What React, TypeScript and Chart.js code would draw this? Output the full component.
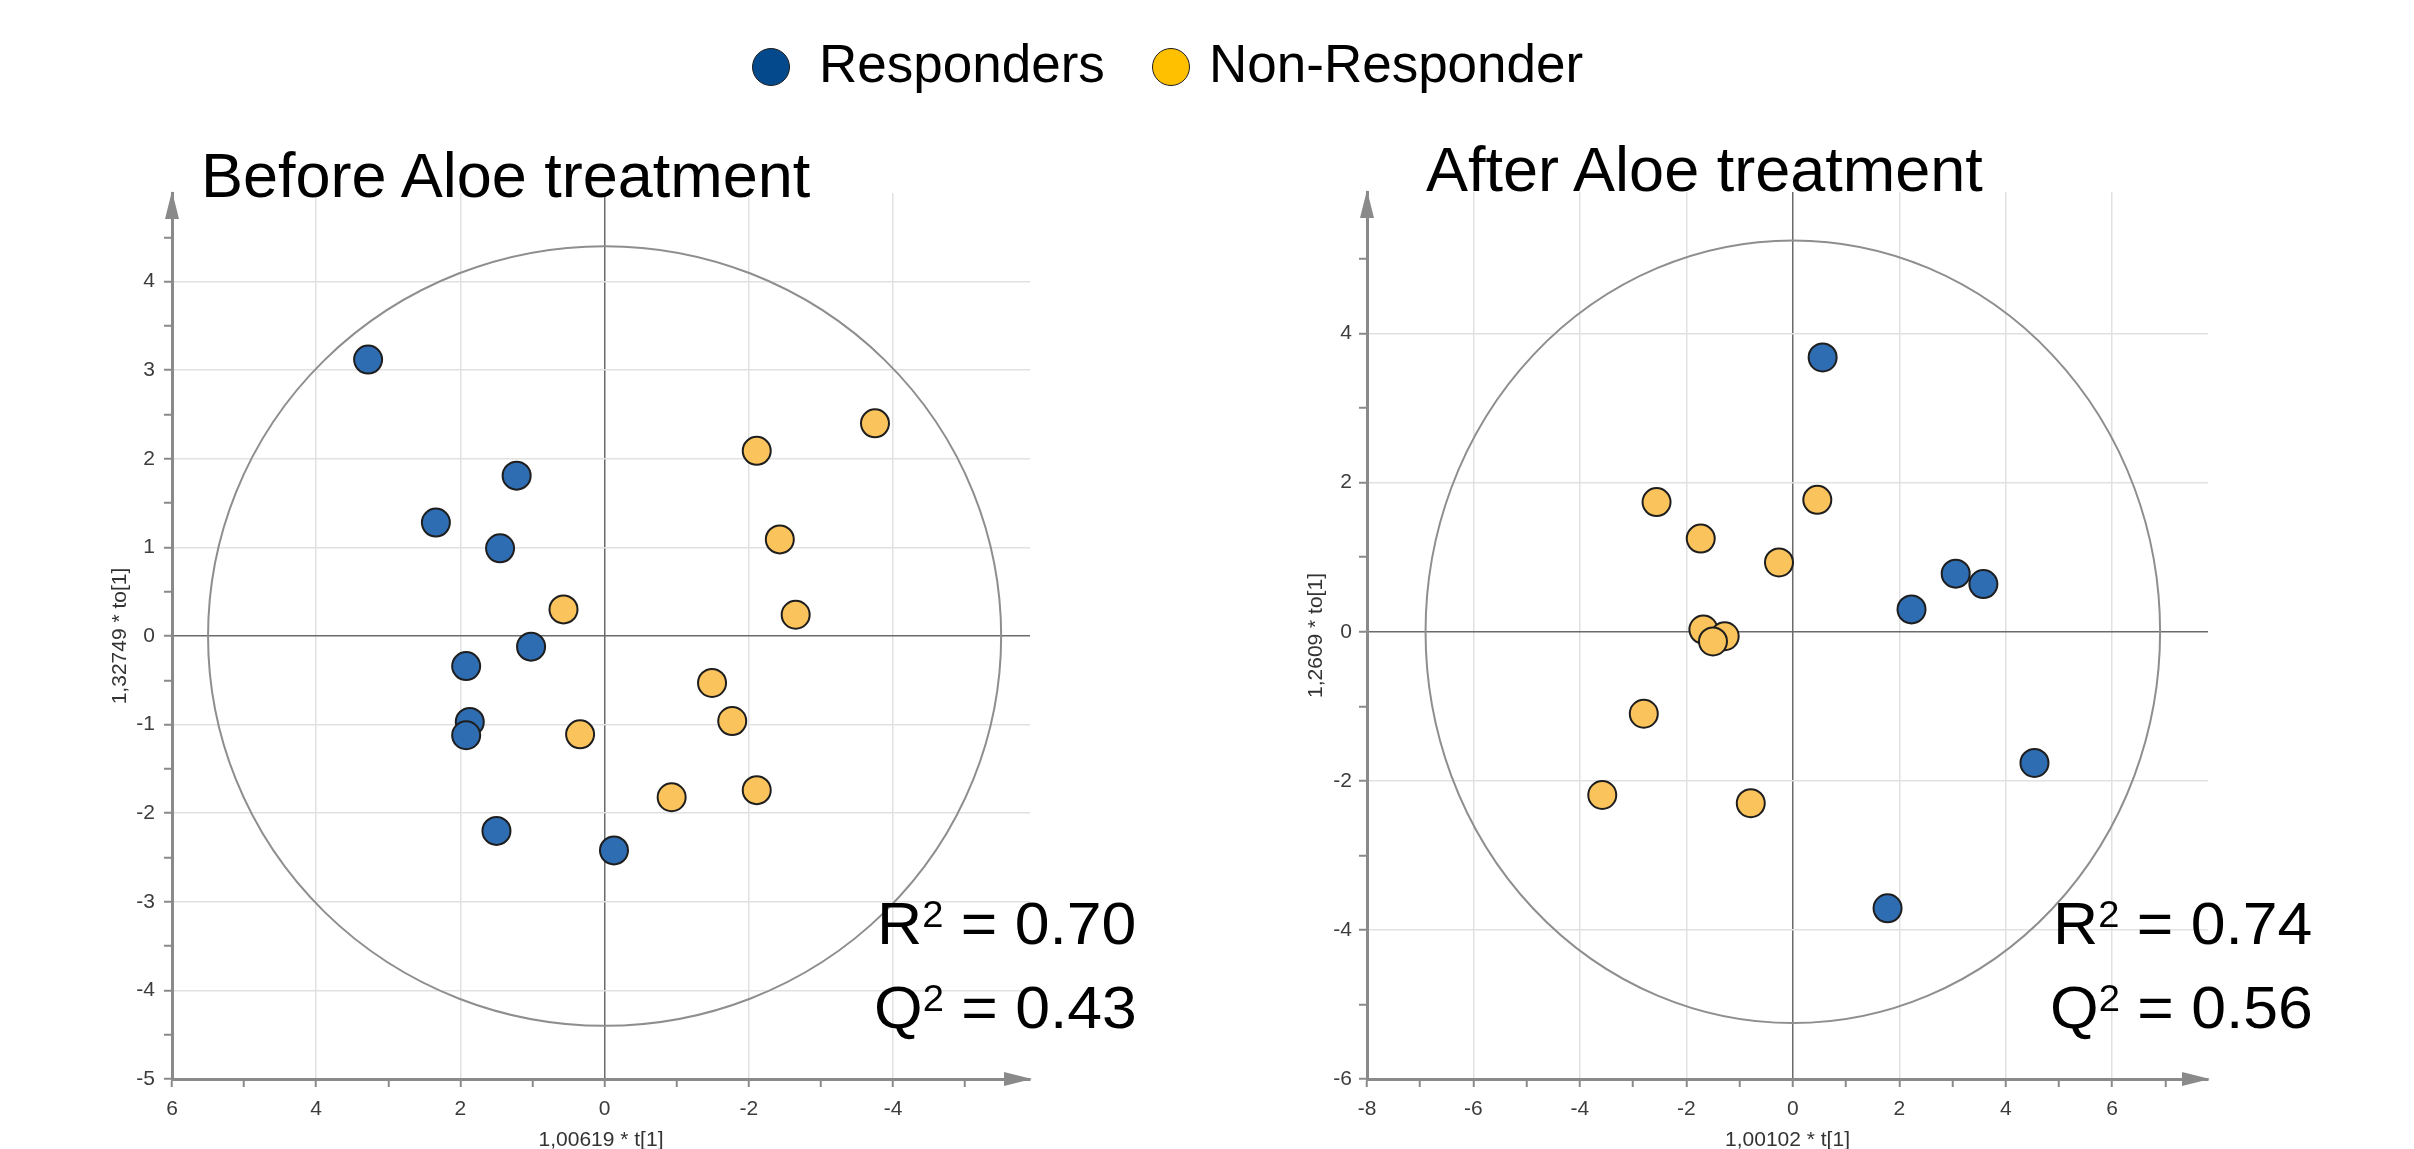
import React, { useEffect, useRef } from 'react';
import { Chart, registerables } from 'chart.js';

Chart.register(...registerables);

// ---------------- DATA ----------------
const legendLabels = ['Responders', 'Non-Responder'];
const panelTitles = ['Before Aloe treatment', 'After Aloe treatment'];

// Before Aloe treatment (x = 1,00619 * t[1], y = 1,32749 * to[1])
const beforeRespondersX = [3.28, 1.22, 2.34, 1.45, 1.02, 1.92, 1.87, 1.92, 1.5, -0.13];
const beforeRespondersY = [3.12, 1.81, 1.28, 0.99, -0.12, -0.34, -0.97, -1.12, -2.2, -2.42];
const beforeNonRespondersX = [-3.75, -2.11, -2.43, -2.65, 0.57, -1.49, -1.77, 0.34, -0.93, -2.11];
const beforeNonRespondersY = [2.4, 2.09, 1.09, 0.24, 0.3, -0.53, -0.96, -1.11, -1.82, -1.74];

// After Aloe treatment (x = 1,00102 * t[1], y = 1,2609 * to[1])
const afterRespondersX = [0.56, 2.23, 3.06, 3.58, 4.54, 1.78];
const afterRespondersY = [3.68, 0.3, 0.78, 0.64, -1.76, -3.71];
const afterNonRespondersX = [-2.56, 0.46, -1.73, -0.26, -1.68, -1.28, -1.5, -2.8, -3.58, -0.79];
const afterNonRespondersY = [1.74, 1.77, 1.25, 0.93, 0.03, -0.06, -0.13, -1.1, -2.19, -2.3];

// Hotelling T2 ellipse semi-axes (x, y)
const beforeEllipse = [5.5, 4.4];
const afterEllipse = [6.9, 5.25];

// Axis ranges
const beforeXRange = [-5.9, 6];
const beforeYRange = [-5, 5];
const afterXRange = [-8, 7.8];
const afterYRange = [-6, 5.9];

// Tick labels and minor ticks
const beforeXLabelTicks = [6, 4, 2, 0, -2, -4];
const beforeXMinorTicks = [5, 3, 1, -1, -3, -5];
const beforeYLabelTicks = [4, 3, 2, 1, 0, -1, -2, -3, -4, -5];
const beforeYMinorTicks = [4.5, 3.5, 2.5, 1.5, 0.5, -0.5, -1.5, -2.5, -3.5, -4.5];
const afterXLabelTicks = [-8, -6, -4, -2, 0, 2, 4, 6];
const afterXMinorTicks = [-7, -5, -3, -1, 1, 3, 5, 7];
const afterYLabelTicks = [4, 2, 0, -2, -4, -6];
const afterYMinorTicks = [5, 3, 1, -1, -3, -5];

// Axis titles
const beforeXTitle = '1,00619 * t[1]';
const beforeYTitle = '1,32749 * to[1]';
const afterXTitle = '1,00102 * t[1]';
const afterYTitle = '1,2609 * to[1]';

// Model statistics
const beforeStats = ['0.70', '0.43'];
const afterStats = ['0.74', '0.56'];

// ---------------- STYLE ----------------
const BLUE = '#2f6db3';
const YELLOW = '#fac35b';
const LEGEND_BLUE = '#03498b';
const LEGEND_YELLOW = '#ffc000';
const AXIS_GRAY = '#8a8a8a';
const FONT = '"Liberation Sans", Arial, Helvetica, sans-serif';

const toPoints = (xs: number[], ys: number[]) => xs.map((x, i) => ({ x, y: ys[i] }));

const decorPlugin = {
  id: 'decor',
  beforeDatasetsDraw(chart: any, _args: any, opts: any) {
    const { ctx } = chart;
    const xs = chart.scales.x;
    const ys = chart.scales.y;
    const cx = xs.getPixelForValue(0);
    const cy = ys.getPixelForValue(0);
    const rx = Math.abs(xs.getPixelForValue(opts.rx) - cx);
    const ry = Math.abs(ys.getPixelForValue(opts.ry) - cy);
    ctx.save();
    ctx.beginPath();
    ctx.ellipse(cx, cy, rx, ry, 0, 0, Math.PI * 2);
    ctx.strokeStyle = '#8e8e8e';
    ctx.lineWidth = 2;
    ctx.stroke();
    ctx.restore();
  },
  afterDraw(chart: any) {
    const { ctx, chartArea } = chart;
    const { left, right, top, bottom } = chartArea;
    ctx.save();
    ctx.fillStyle = AXIS_GRAY;
    ctx.beginPath();
    ctx.moveTo(right + 2, bottom);
    ctx.lineTo(right - 26, bottom - 7);
    ctx.lineTo(right - 26, bottom + 7);
    ctx.closePath();
    ctx.fill();
    ctx.beginPath();
    ctx.moveTo(left, top - 2);
    ctx.lineTo(left - 7, top + 26);
    ctx.lineTo(left + 7, top + 26);
    ctx.closePath();
    ctx.fill();
    ctx.restore();
  },
};

type Panel = {
  responders: { x: number; y: number }[];
  nonResponders: { x: number; y: number }[];
  ellipse: number[];
  xRange: number[];
  yRange: number[];
  reverseX: boolean;
  xLabelTicks: number[];
  xMinorTicks: number[];
  yLabelTicks: number[];
  yMinorTicks: number[];
  xTitle: string;
  yTitle: string;
};

type Box = {
  left: number;
  top: number;
  width: number;
  height: number;
  padTop: number;
  padRight: number;
  yWidth: number;
  xHeight: number;
  yTitlePad: number;
  yTickPad: number;
};

const panels: Panel[] = [
  {
    responders: toPoints(beforeRespondersX, beforeRespondersY),
    nonResponders: toPoints(beforeNonRespondersX, beforeNonRespondersY),
    ellipse: beforeEllipse,
    xRange: beforeXRange,
    yRange: beforeYRange,
    reverseX: true,
    xLabelTicks: beforeXLabelTicks,
    xMinorTicks: beforeXMinorTicks,
    yLabelTicks: beforeYLabelTicks,
    yMinorTicks: beforeYMinorTicks,
    xTitle: beforeXTitle,
    yTitle: beforeYTitle,
  },
  {
    responders: toPoints(afterRespondersX, afterRespondersY),
    nonResponders: toPoints(afterNonRespondersX, afterNonRespondersY),
    ellipse: afterEllipse,
    xRange: afterXRange,
    yRange: afterYRange,
    reverseX: false,
    xLabelTicks: afterXLabelTicks,
    xMinorTicks: afterXMinorTicks,
    yLabelTicks: afterYLabelTicks,
    yMinorTicks: afterYMinorTicks,
    xTitle: afterXTitle,
    yTitle: afterYTitle,
  },
];

const boxes: Box[] = [
  { left: 60, top: 150, width: 1000, height: 1005, padTop: 43, padRight: 30, yWidth: 112, xHeight: 76, yTitlePad: 50, yTickPad: 9 },
  { left: 1240, top: 150, width: 1000, height: 1005, padTop: 42, padRight: 32, yWidth: 127, xHeight: 76, yTitlePad: 66, yTickPad: 7 },
];

function ScatterPanel({ panel, box }: { panel: Panel; box: Box }) {
  const ref = useRef<HTMLCanvasElement>(null);
  useEffect(() => {
    if (!ref.current) return;
    const xTicks = [...panel.xLabelTicks, ...panel.xMinorTicks].sort((a, b) => a - b);
    const yTicks = [...panel.yLabelTicks, ...panel.yMinorTicks].sort((a, b) => a - b);
    const tickFont = { family: FONT, size: 21 };
    const titleFont = { family: FONT, size: 21, lineHeight: 1 };
    const gridColor = (labels: number[], axisValue: number) => (c: any) => {
      const v = c.tick ? c.tick.value : NaN;
      if (!labels.includes(v)) return 'rgba(0,0,0,0)';
      if (v === axisValue) return 'rgba(0,0,0,0)';
      if (v === 0) return '#6b6b6b';
      return '#e1e1e1';
    };
    const chart = new Chart(ref.current, {
      type: 'scatter',
      data: {
        datasets: [
          {
            label: legendLabels[1],
            data: panel.nonResponders,
            backgroundColor: YELLOW,
            borderColor: '#1e1e1e',
            borderWidth: 2,
            pointRadius: 14,
            pointHoverRadius: 14,
          },
          {
            label: legendLabels[0],
            data: panel.responders,
            backgroundColor: BLUE,
            borderColor: '#1e1e1e',
            borderWidth: 2,
            pointRadius: 14,
            pointHoverRadius: 14,
          },
        ],
      },
      options: {
        responsive: false,
        animation: false,
        devicePixelRatio: 1,
        events: [],
        layout: { padding: { top: box.padTop, right: box.padRight, bottom: 0, left: 0 } },
        plugins: {
          legend: { display: false },
          tooltip: { enabled: false },
          // @ts-ignore
          decor: { rx: panel.ellipse[0], ry: panel.ellipse[1] },
        },
        scales: {
          x: {
            type: 'linear',
            min: panel.xRange[0],
            max: panel.xRange[1],
            reverse: panel.reverseX,
            afterBuildTicks: (s: any) => {
              s.ticks = xTicks.map((v) => ({ value: v }));
            },
            afterFit: (s: any) => {
              s.height = box.xHeight;
            },
            ticks: {
              autoSkip: false,
              maxRotation: 0,
              minRotation: 0,
              padding: 10,
              color: '#3c3c3c',
              font: tickFont,
              callback: (v: any) => (panel.xLabelTicks.includes(Number(v)) ? String(v) : ''),
            },
            grid: {
              color: gridColor(panel.xLabelTicks, panel.reverseX ? panel.xRange[1] : panel.xRange[0]),
              lineWidth: 1.5,
              drawTicks: true,
              tickLength: 8,
              tickColor: AXIS_GRAY,
              tickWidth: 2,
            },
            border: { display: true, color: AXIS_GRAY, width: 3 },
            title: {
              display: true,
              text: panel.xTitle,
              color: '#333',
              font: titleFont,
              padding: { top: 0, bottom: 4.5 },
            },
          },
          y: {
            type: 'linear',
            min: panel.yRange[0],
            max: panel.yRange[1],
            afterBuildTicks: (s: any) => {
              s.ticks = yTicks.map((v) => ({ value: v }));
            },
            afterFit: (s: any) => {
              s.width = box.yWidth;
            },
            ticks: {
              autoSkip: false,
              padding: box.yTickPad,
              color: '#3c3c3c',
              font: tickFont,
              callback: (v: any) => (panel.yLabelTicks.includes(Number(v)) ? String(v) : ''),
            },
            grid: {
              color: gridColor(panel.yLabelTicks, panel.yRange[0]),
              lineWidth: 1.5,
              drawTicks: true,
              tickLength: 8,
              tickColor: AXIS_GRAY,
              tickWidth: 2,
            },
            border: { display: true, color: AXIS_GRAY, width: 3 },
            title: {
              display: true,
              text: panel.yTitle,
              color: '#333',
              font: titleFont,
              padding: { top: box.yTitlePad, bottom: 0 },
            },
          },
        },
      },
      plugins: [decorPlugin],
    } as any);
    return () => chart.destroy();
  }, [panel, box]);
  return (
    <canvas
      ref={ref}
      width={box.width}
      height={box.height}
      style={{ position: 'absolute', left: box.left, top: box.top, width: box.width, height: box.height }}
    />
  );
}

const textStyle = (left: number, top: number, size: number): React.CSSProperties => ({
  position: 'absolute',
  left,
  top,
  fontSize: size,
  lineHeight: `${size}px`,
  whiteSpace: 'nowrap',
  fontFamily: FONT,
  color: '#000',
});

function Stat({ left, top, letter, value }: { left: number; top: number; letter: string; value: string }) {
  return (
    <div style={{ ...textStyle(left, top, 59), transform: 'scaleX(1.06)', transformOrigin: '0 0' }}>
      {letter}
      <span style={{ fontSize: 36, position: 'relative', top: -17 }}>2</span>
      {' = '}
      {value}
    </div>
  );
}

function LegendDot({ cx, cy, color }: { cx: number; cy: number; color: string }) {
  return (
    <div
      style={{
        position: 'absolute',
        left: cx - 19,
        top: cy - 19,
        width: 38,
        height: 38,
        borderRadius: '50%',
        background: color,
        border: '1.5px solid #1e1e1e',
        boxSizing: 'border-box',
      }}
    />
  );
}

export default function App() {
  return (
    <div
      style={{
        position: 'absolute',
        left: 0,
        top: 0,
        width: 2414,
        height: 1149,
        background: '#fff',
        overflow: 'hidden',
        fontFamily: FONT,
      }}
    >
      <ScatterPanel panel={panels[0]} box={boxes[0]} />
      <ScatterPanel panel={panels[1]} box={boxes[1]} />

      <LegendDot cx={771} cy={67} color={LEGEND_BLUE} />
      <div style={textStyle(819, 37, 53)}>{legendLabels[0]}</div>
      <LegendDot cx={1171} cy={67} color={LEGEND_YELLOW} />
      <div style={textStyle(1209, 37, 53)}>{legendLabels[1]}</div>

      <div style={textStyle(201, 144, 63)}>{panelTitles[0]}</div>
      <div style={textStyle(1426, 138, 63)}>{panelTitles[1]}</div>

      <Stat left={877} top={895} letter="R" value={beforeStats[0]} />
      <Stat left={874} top={979} letter="Q" value={beforeStats[1]} />
      <Stat left={2053} top={895} letter="R" value={afterStats[0]} />
      <Stat left={2050} top={979} letter="Q" value={afterStats[1]} />
    </div>
  );
}
